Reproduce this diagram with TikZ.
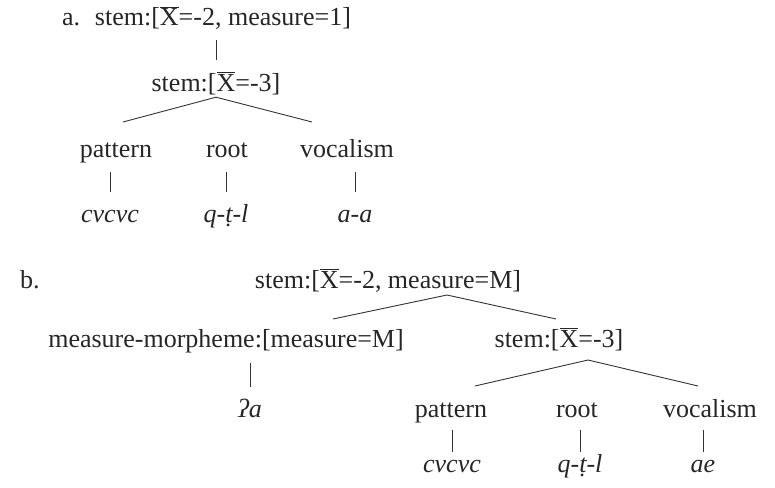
\documentclass[tikz,border=0pt]{standalone}
\usepackage{fontspec}
\setmainfont{Liberation Serif}
\usepackage{tikz}
\usetikzlibrary{positioning}

\newcommand{\xbar}{$\overline{\mbox{X}}$}

\begin{document}
\begin{tikzpicture}[
			x=1pt, y=1pt,
			lab/.style={inner sep=0pt, anchor=base, text height=18pt, text depth=6pt, text=black!85, font=\fontsize{26pt}{30pt}\selectfont},
			form/.style={lab, font=\fontsize{26pt}{30pt}\selectfont\itshape},
			edge/.style={line width=0.9pt, draw=black!80}
			]
			\useasboundingbox (0,0) rectangle (775,-487);
			
			% a.
			\node[lab, anchor=base west] (tagA) at (62,-26) {a.};
			\node[lab] (stemA1) at (223,-26) {stem:[\xbar=-2, measure=1]};
			\node[lab] (stemA2) at (216,-91) {stem:[\xbar=-3]};
			\node[lab] (patA) at (116,-157) {pattern};
			\node[lab] (rootA) at (227,-157) {root};
			\node[lab] (vocA) at (347,-157) {vocalism};
			\node[form] (cvA) at (110,-222) {cvcvc};
			\node[form] (qtlA) at (226,-222) {q-ṭ-l};
			\node[form] (aaA) at (355,-222) {a-a};
			\coordinate (brA1) at (123,-122);
			\coordinate (brA2) at (312,-122);
			
			\draw[edge, shorten <=8pt, shorten >=13pt] (stemA1.south -| stemA2.south) -- (stemA2.north);
			\draw[edge] (brA1) -- (stemA2.south) -- (brA2);
			\draw[edge, shorten <=9pt, shorten >=12pt] (patA.south -| cvA) -- (cvA.north);
			\draw[edge, shorten <=9pt, shorten >=12pt] (rootA.south -| qtlA) -- (qtlA.north);
			\draw[edge, shorten <=9pt, shorten >=12pt] (vocA.south -| aaA) -- (aaA.north);
			
			% b.
			\node[lab, anchor=base west] (tagB) at (20,-288) {b.};
			\node[lab] (stemB1) at (388,-288) {stem:[\xbar=-2, measure=M]};
			\node[lab] (mmB) at (226,-347) {measure-morpheme:[measure=M]};
			\node[lab] (stemB2) at (559,-347) {stem:[\xbar=-3]};
			\node[form] (glotB) at (250,-417) {ʔa};
			\node[lab] (patB) at (451,-417) {pattern};
			\node[lab] (rootB) at (577,-417) {root};
			\node[lab] (vocB) at (710,-417) {vocalism};
			\node[form] (cvB) at (452,-472) {cvcvc};
			\node[form] (qtlB) at (580,-472) {q-ṭ-l};
			\node[form] (aeB) at (703,-472) {ae};
			\coordinate (apB1) at (447,-295);
			\coordinate (brB1) at (333,-319);
			\coordinate (brB2) at (556,-319);
			\coordinate (apB2) at (588,-360);
			\coordinate (brB3) at (475,-386);
			\coordinate (brB4) at (698,-386);
			
			\draw[edge] (brB1) -- (apB1) -- (brB2);
			\draw[edge, shorten <=10pt, shorten >=12pt] (mmB.south -| glotB) -- (glotB.north);
			\draw[edge] (brB3) -- (apB2) -- (brB4);
			\draw[edge, shorten <=7pt, shorten >=2pt] (patB.south -| cvB) -- (cvB.north);
			\draw[edge, shorten <=7pt, shorten >=2pt] (rootB.south -| qtlB) -- (qtlB.north);
			\draw[edge, shorten <=7pt, shorten >=2pt] (vocB.south -| aeB) -- (aeB.north);
		\end{tikzpicture}
\end{document}
